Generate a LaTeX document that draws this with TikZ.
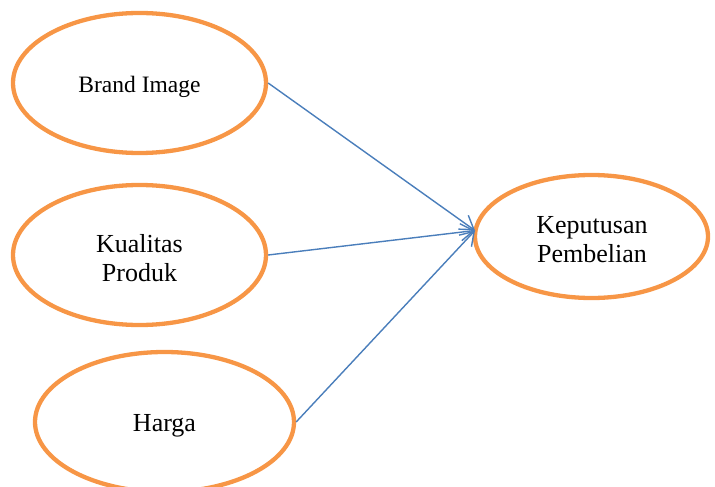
\documentclass[tikz,border=0pt]{standalone}
\usepackage{fontspec}
\setmainfont{Liberation Serif}
\usetikzlibrary{shapes.geometric,arrows.meta}
\definecolor{ovalorange}{HTML}{F79646}
\definecolor{arrowblue}{HTML}{4A7EBB}
\begin{document}
\begin{tikzpicture}[x=1pt,y=-1pt,
  oval/.style={ellipse,draw=ovalorange,line width=4.3pt,inner sep=0pt},
  label text/.style={align=center,inner sep=0pt,font=\fontsize{26}{29}\selectfont},
  link/.style={draw=arrowblue,line width=1.4pt,-{Straight Barb[length=13pt,width=17pt,line width=1.4pt]}}]
\useasboundingbox (0,0) rectangle (715,487);
\node[oval,minimum width=253pt,minimum height=140pt] (brand) at (139.5,83) {};
\node[oval,minimum width=253pt,minimum height=140pt] (kual) at (139.5,255) {};
\node[oval,minimum width=259pt,minimum height=140pt] (harga) at (164.5,422) {};
\node[oval,minimum width=233pt,minimum height=123pt] (kep) at (591.5,236.5) {};
\node[label text,font=\fontsize{23.5}{28}\selectfont] (brandt) at (139.5,87) {Brand Image};
\node[label text] (kualt) at (139.5,258) {Kualitas\\Produk};
\node[label text] (hargat) at (164.5,425.5) {Harga};
\node[label text] (kept) at (592,240) {Keputusan\\Pembelian};
\coordinate (tip) at (475,230.5);
\draw[link] (brand.east) -- (tip);
\draw[link] (kual.east) -- (tip);
\draw[link] (harga.east) -- (tip);
\end{tikzpicture}
\end{document}
